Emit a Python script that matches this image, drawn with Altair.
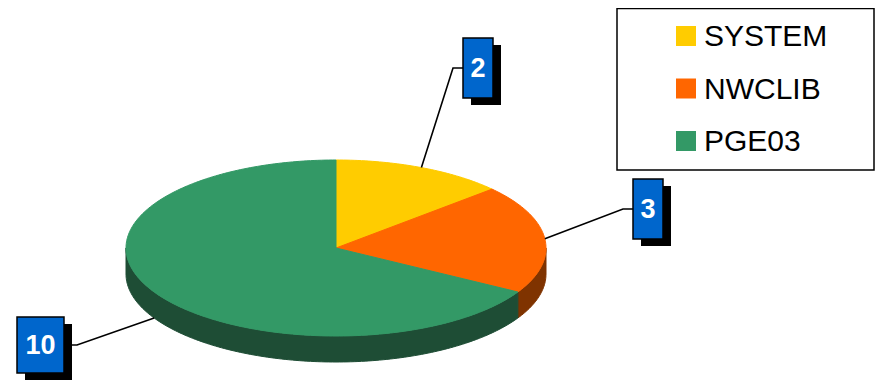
import math
import pandas as pd
import altair as alt

# ---- data ----
categories = ["SYSTEM", "NWCLIB", "PGE03"]
values = [2, 3, 10]
labels = ["2", "3", "10"]

# ---- styles ----
top_colors = ["#FFCC00", "#FF6600", "#339966"]
side_colors = ["#806600", "#7F3300", "#1E4D35"]
box_color = "#0066CC"

# ---- layout (chart coordinates, px from top-left of plot) ----
W, H = 867, 374
CX, CY, RX, RY, DEPTH = 328, 240, 210, 88, 26
label_boxes = [(455, 30, 485, 90), (625, 171, 655, 231), (9, 309, 56, 365)]
label_attach = ["left", "left", "right"]
SHADOW_DX, SHADOW_DY = 8, 7
legend_box = (609, 0.5, 866, 162)
legend_sw_x = (668, 688)
legend_text_x = 696
legend_y0, legend_dy, legend_sw = 28, 52.5, 20


def pt(a_deg, dy=0.0):
    a = math.radians(a_deg)
    return CX + RX * math.sin(a), CY - RY * math.cos(a) + dy


def arc(a0, a1, dy=0.0):
    n = max(2, int(abs(a1 - a0)) + 1)
    return [pt(a0 + (a1 - a0) * i / (n - 1), dy) for i in range(n)]


total = sum(values)
tops, sides, leaders = [], [], []
start = 0.0
for i, (cat, v) in enumerate(zip(categories, values)):
    a0 = start
    a1 = start + 360.0 * v / total
    start = a1
    # top face
    pts = [(CX, CY)] + arc(a0, a1) + [(CX, CY)]
    for k, (x, y) in enumerate(pts):
        tops.append({"poly": cat, "ord": k, "x": x, "y": y, "color": top_colors[i]})
    # visible side (front half: 90..270)
    lo, hi = max(a0, 90.0), min(a1, 270.0)
    if hi > lo:
        spts = arc(lo, hi) + arc(hi, lo, DEPTH)
        spts.append(spts[0])
        for k, (x, y) in enumerate(spts):
            sides.append({"poly": cat, "ord": k, "x": x, "y": y, "color": side_colors[i]})
    # leader line
    mid = (a0 + a1) / 2
    ax, ay = pt(mid, DEPTH if 90 < mid < 270 else 0)
    bx0, by0, bx1, by1 = label_boxes[i]
    cy = (by0 + by1) / 2
    if label_attach[i] == "left":
        ex, elx = bx0, bx0 - 10
    else:
        ex, elx = bx1, bx1 + 13
    for k, (x, y) in enumerate([(ax, ay), (elx, cy), (ex, cy)]):
        leaders.append({"lab": labels[i], "ord": k, "x": x, "y": y})

boxes = pd.DataFrame([
    {"lab": labels[i], "x0": b[0], "y0": b[1], "x1": b[2], "y1": b[3],
     "sx0": b[0] + SHADOW_DX, "sy0": b[1] + SHADOW_DY,
     "sx1": b[2] + SHADOW_DX, "sy1": b[3] + SHADOW_DY,
     "cx": (b[0] + b[2]) / 2, "cy": (b[1] + b[3]) / 2}
    for i, b in enumerate(label_boxes)
])

legend_df = pd.DataFrame([
    {"cat": c, "color": top_colors[i],
     "sx0": legend_sw_x[0], "sx1": legend_sw_x[1],
     "yc": legend_y0 + i * legend_dy,
     "sy0": legend_y0 + i * legend_dy - legend_sw / 2,
     "sy1": legend_y0 + i * legend_dy + legend_sw / 2,
     "tx": legend_text_x}
    for i, c in enumerate(categories)
])
legend_border = pd.DataFrame([{"x0": legend_box[0], "y0": legend_box[1],
                               "x1": legend_box[2], "y1": legend_box[3]}])

xs = alt.Scale(domain=[0, W], nice=False, zero=False)
ys = alt.Scale(domain=[0, H], nice=False, zero=False, reverse=True)


def X(f):
    return alt.X(f, type="quantitative", scale=xs, axis=None)


def Y(f):
    return alt.Y(f, type="quantitative", scale=ys, axis=None)


side_layer = alt.Chart(pd.DataFrame(sides)).mark_line(strokeWidth=1, interpolate="linear").encode(
    x=X("x"), y=Y("y"), detail="poly:N", order="ord:Q",
    fill=alt.Fill("color:N", scale=None), stroke=alt.Stroke("color:N", scale=None))

top_layer = alt.Chart(pd.DataFrame(tops)).mark_line(strokeWidth=1, interpolate="linear").encode(
    x=X("x"), y=Y("y"), detail="poly:N", order="ord:Q",
    fill=alt.Fill("color:N", scale=None), stroke=alt.Stroke("color:N", scale=None))

leader_layer = alt.Chart(pd.DataFrame(leaders)).mark_line(color="black", strokeWidth=1.6).encode(
    x=X("x"), y=Y("y"), detail="lab:N", order="ord:Q")

shadow_layer = alt.Chart(boxes).mark_rect(color="black").encode(
    x=X("sx0"), x2="sx1", y=Y("sy0"), y2="sy1")

box_layer = alt.Chart(boxes).mark_rect(fill=box_color, stroke="black", strokeWidth=1.5).encode(
    x=X("x0"), x2="x1", y=Y("y0"), y2="y1")

box_text = alt.Chart(boxes).mark_text(
    color="white", font="Liberation Sans", fontWeight="bold", fontSize=27,
    align="center", baseline="middle", dy=1).encode(
    x=X("cx"), y=Y("cy"), text="lab:N")

leg_border = alt.Chart(legend_border).mark_rect(fill="white", stroke="black", strokeWidth=1.5).encode(
    x=X("x0"), x2="x1", y=Y("y0"), y2="y1")

leg_sw = alt.Chart(legend_df).mark_rect().encode(
    x=X("sx0"), x2="sx1", y=Y("sy0"), y2="sy1",
    fill=alt.Fill("color:N", scale=None))

leg_text = alt.Chart(legend_df).mark_text(
    color="black", font="Liberation Sans", fontSize=30, align="left", baseline="middle", dy=1).encode(
    x=X("tx"), y=Y("yc"), text="cat:N")

chart = alt.layer(
    side_layer, top_layer, leader_layer, shadow_layer, box_layer, box_text,
    leg_border, leg_sw, leg_text
).properties(
    width=W, height=H, padding=0, autosize=alt.AutoSizeParams(type="none")
).configure_view(stroke=None)

chart.save("out.html", embed_options={"renderer": "svg", "actions": False})
